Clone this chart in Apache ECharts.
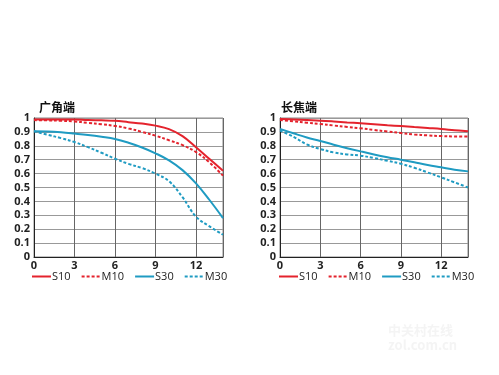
<!DOCTYPE html>
<html><head><meta charset="utf-8">
<script src="https://cdn.jsdelivr.net/npm/echarts@6/dist/echarts.min.js"></script>
<style>html,body{margin:0;padding:0;background:#fff}#c{width:499px;height:375px}</style>
</head><body><div id="c"></div>
<script>
// spatial frequency positions (mm from center)
const xs = [0, 1, 2, 3, 4, 5, 6, 7, 8, 9, 10, 11, 12, 13, 14];
const xTicks = ['0', '3', '6', '9', '12'];
const titles = ['广角端', '长焦端'];
const seriesNames = ['S10', 'M10', 'S30', 'M30'];

// 广角端 (wide)
const wideS10 = [0.99, 0.99, 0.99, 0.99, 0.985, 0.983, 0.98, 0.97, 0.96, 0.945, 0.92, 0.87, 0.79, 0.705, 0.62];
const wideM10 = [0.985, 0.983, 0.98, 0.975, 0.965, 0.955, 0.943, 0.925, 0.9, 0.873, 0.84, 0.805, 0.755, 0.68, 0.585];
const wideS30 = [0.905, 0.903, 0.897, 0.888, 0.878, 0.865, 0.849, 0.822, 0.788, 0.746, 0.695, 0.625, 0.53, 0.41, 0.28];
const wideM30 = [0.905, 0.88, 0.855, 0.827, 0.79, 0.75, 0.707, 0.67, 0.64, 0.6, 0.545, 0.43, 0.29, 0.22, 0.16];

// 长焦端 (tele)
const teleS10 = [0.993, 0.989, 0.985, 0.981, 0.975, 0.968, 0.962, 0.955, 0.948, 0.942, 0.935, 0.928, 0.921, 0.912, 0.904];
const teleM10 = [0.986, 0.976, 0.966, 0.957, 0.946, 0.936, 0.926, 0.914, 0.903, 0.892, 0.882, 0.875, 0.87, 0.867, 0.866];
const teleS30 = [0.921, 0.89, 0.86, 0.835, 0.808, 0.783, 0.76, 0.738, 0.718, 0.7, 0.681, 0.662, 0.645, 0.628, 0.616];
const teleM30 = [0.91, 0.865, 0.81, 0.777, 0.752, 0.738, 0.729, 0.712, 0.692, 0.671, 0.642, 0.608, 0.573, 0.537, 0.5];

const RED = '#e4232d', BLUE = '#1f9bc2';
const styles = [
  {color: RED, type: 'solid'},
  {color: RED, type: [3, 2]},
  {color: BLUE, type: 'solid'},
  {color: BLUE, type: [3, 2]}
];
const pairs = ys => xs.map((x, i) => [x, ys[i]]);
const panels = [[wideS10, wideM10, wideS30, wideM30], [teleS10, teleM10, teleS30, teleM30]];
const grids = [{left: 34, top: 118, width: 189, height: 139}, {left: 280, top: 118, width: 188, height: 139}];
const legendLeft = [31, 278];
const titleLeft = [34, 276];

const chart = echarts.init(document.getElementById('c'), null, {renderer: 'canvas'});
const option = {
  backgroundColor: '#fff',
  animation: false,
  title: titles.map((t, i) => ({
    text: t, left: titleLeft[i], top: 96,
    textStyle: {fontFamily: 'Noto Sans CJK SC', fontSize: 12, fontWeight: 'bold', color: '#111'}
  })),
  grid: grids.map(g => Object.assign({show: true, borderColor: '#888', borderWidth: 1, backgroundColor: 'transparent'}, g)),
  legend: [0, 1].map(p => ({
    left: legendLeft[p], top: 271, padding: 0, itemWidth: 19, itemHeight: 8, itemGap: 10,
    itemStyle: {opacity: 0},
    data: seriesNames.map(n => ({name: n + (p ? ' ' : '')})),
    formatter: n => n.trim(),
    textStyle: {fontFamily: 'Open Sans', fontSize: 11, color: '#222', padding: [0, 0, 0, -4]}
  })),
  xAxis: [0, 1].map(p => ({
    type: 'value', gridIndex: p, min: 0, max: 14, interval: 3,
    axisLine: {show: true, lineStyle: {color: '#222', width: 1}},
    axisTick: {show: false},
    splitLine: {show: true, lineStyle: {color: '#666', width: 1}},
    axisLabel: {
      margin: 3, fontFamily: 'Open Sans', fontSize: 11, fontWeight: 'bold', color: '#222',
      formatter: v => xTicks.indexOf(String(v)) >= 0 ? String(v) : ''
    }
  })),
  yAxis: [0, 1].map(p => ({
    type: 'value', gridIndex: p, min: 0, max: 1, interval: 0.1,
    axisLine: {show: true, lineStyle: {color: '#222', width: 1}},
    axisTick: {show: false},
    splitLine: {show: true, lineStyle: {color: '#999', width: 1}},
    axisLabel: {margin: 4, fontFamily: 'Open Sans', fontSize: 11, fontWeight: 'bold', color: '#222',
      formatter: v => String(Math.round(v * 10) / 10)}
  })),
  series: [],
  graphic: [{
    type: 'text', left: 388, top: 323,
    style: {text: '中关村在线\nzol.com.cn', fill: 'rgba(210,210,210,0.25)', fontSize: 13, fontWeight: 'bold', fontFamily: 'Noto Sans CJK SC', lineHeight: 15}
  }]
};
panels.forEach((vals, p) => {
  vals.forEach((ys, k) => {
    option.series.push({
      name: seriesNames[k] + (p ? ' ' : ''), type: 'line', xAxisIndex: p, yAxisIndex: p,
      data: pairs(ys), smooth: 0.4, symbol: 'none', showSymbol: false,
      itemStyle: {color: styles[k].color},
      lineStyle: {color: styles[k].color, width: 2, type: styles[k].type}
    });
  });
});
chart.setOption(option);
</script></body></html>
